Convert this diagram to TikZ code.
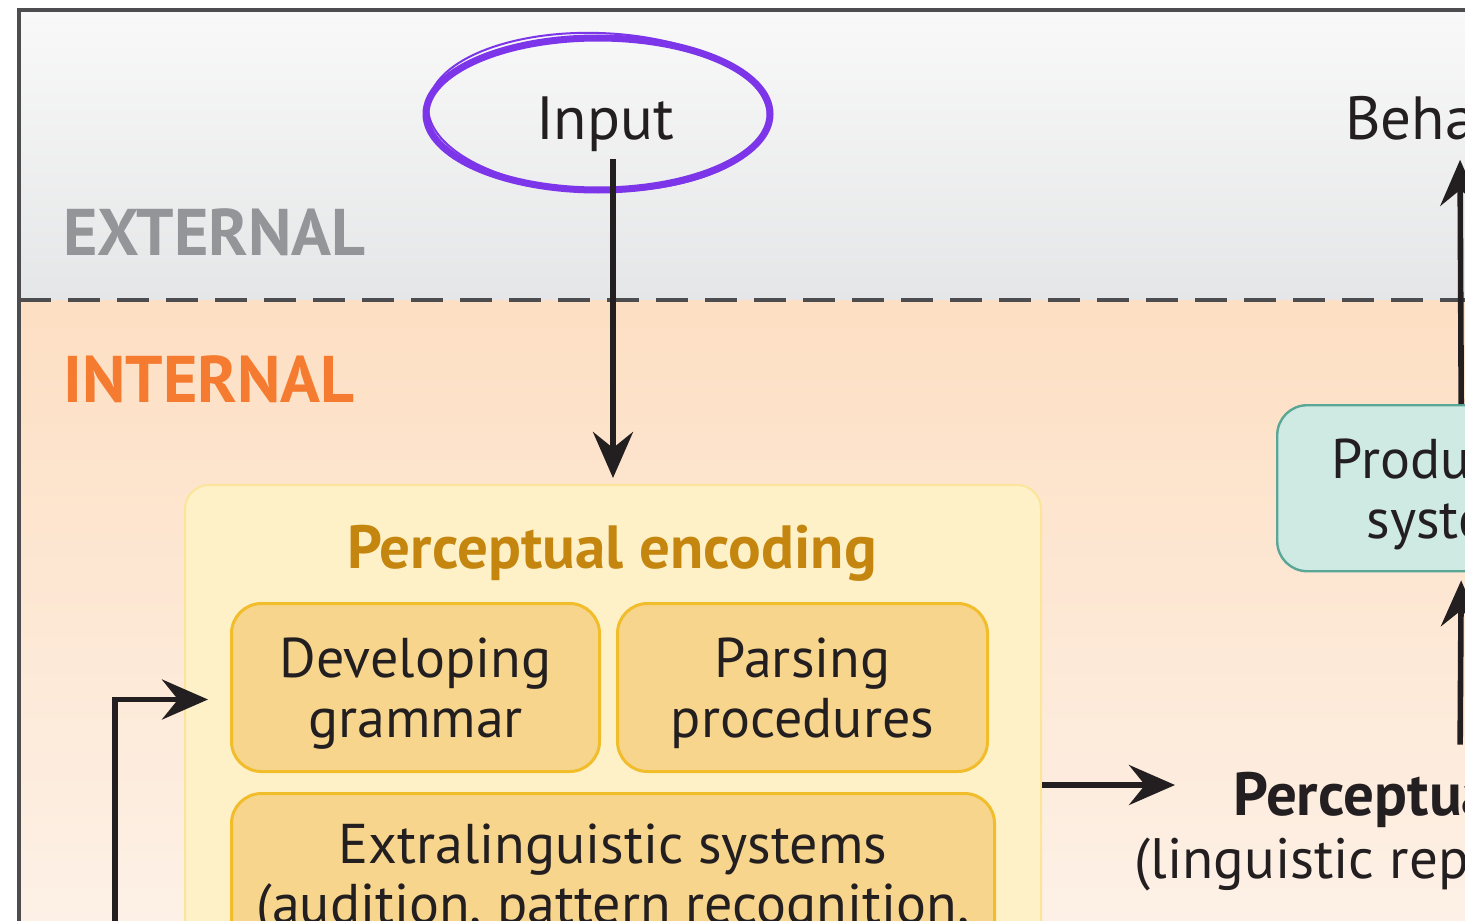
\documentclass[tikz,border=0pt]{standalone}
\usepackage{fontspec}
\setmainfont{PT Sans}
\usepackage{tikz}
\usetikzlibrary{arrows.meta,positioning,calc}

\definecolor{frameline}{HTML}{4D4D4F}
\definecolor{inkblack}{HTML}{231F20}
\definecolor{exttop}{HTML}{F9F9F9}
\definecolor{extbot}{HTML}{E5E6E7}
\definecolor{inttop}{HTML}{FDDFC3}
\definecolor{intbot}{HTML}{FDF1E7}
\definecolor{extgray}{HTML}{939598}
\definecolor{intorange}{HTML}{F47B2F}
\definecolor{encfill}{HTML}{FEF1C8}
\definecolor{encline}{HTML}{FCE49A}
\definecolor{subfill}{HTML}{F7D58C}
\definecolor{subline}{HTML}{F1BD2B}
\definecolor{titlegold}{HTML}{C5860F}
\definecolor{prodfill}{HTML}{CFE9E3}
\definecolor{prodline}{HTML}{5AA697}
\definecolor{brushpurple}{HTML}{7D35EA}

\begin{document}
\begin{tikzpicture}[x=0.5pt, y=-0.5pt,
  zone/.style={font=\fontsize{33}{33}\selectfont\bfseries, anchor=base west, inner sep=0pt},
  lbl/.style={font=\fontsize{30.5}{36}\selectfont, text=inkblack},
  encbox/.style={draw=encline, fill=encfill, line width=1pt, rounded corners=12pt},
  subbox/.style={draw=subline, fill=subfill, line width=1.5pt, rounded corners=15pt,
    align=center, font=\fontsize{28}{30}\selectfont, text=inkblack},
  prodbox/.style={draw=prodline, fill=prodfill, line width=1.2pt, rounded corners=15pt,
    align=center, font=\fontsize{28}{30}\selectfont, text=inkblack},
  arr/.style={-{Stealth[length=23pt, width=20pt, inset=8pt]}, line width=2.8pt, draw=inkblack},
  brush/.style={draw=brushpurple, line width=3.5pt},
]
\useasboundingbox (0,0) rectangle (1465,920);
\clip (0,0) rectangle (1465,920);
\fill[white] (0,0) rectangle (1465,920);

% the two zones
\shade[top color=exttop, bottom color=extbot] (19,10) rectangle (1520,300);
\shade[top color=inttop, bottom color=intbot] (19,300) rectangle (1520,940);
\draw[frameline, line width=2pt] (1520,10) -- (19,10) -- (19,940);
\draw[frameline, line width=2pt, dash pattern=on 16pt off 8.5pt] (19,300) -- (1520,300);
\node[zone, text=extgray] (external) at (63,255) {EXTERNAL};
\node[zone, text=intorange] (internal) at (63,402) {INTERNAL};

% input, circled by hand
\node[lbl, anchor=base] (input) at (605,140) {Input};
\draw[brush] (598,114) ellipse [x radius=172, y radius=76];
\draw[brushpurple, line width=1pt, rotate around={-2:(598,114)}] (598,112) ellipse [x radius=170, y radius=79];

% perceptual encoding block
\node[encbox, anchor=north west, minimum width=428pt, minimum height=320pt] (enc) at (184,484) {};
\node[lbl, font=\fontsize{30.5}{36}\selectfont\bfseries, text=titlegold, anchor=base] (enctitle) at (612,568) {Perceptual encoding};
\node[subbox, anchor=north west, minimum width=184pt, minimum height=84pt, text depth=0pt] (gram) at (230,602) {Developing\\grammar};
\node[subbox, right=7.5pt of gram, minimum width=185pt, minimum height=84pt, text depth=0pt] (parse) {Parsing\\procedures};
\node[subbox, anchor=north west, minimum width=381.5pt, inner ysep=15pt] (extra) at (230,792)
  {Extralinguistic systems\\(audition, pattern recognition,\\memory)};

% right-hand column
\node[prodbox, anchor=north west, minimum width=184pt, minimum height=83pt, text depth=0pt] (prod) at (1276,404) {Production\\systems};
\node[lbl, anchor=base] (beh) at (1460,140) {Behavior};
\node[lbl, font=\fontsize{30.5}{36}\selectfont\bfseries, anchor=base] (intake) at (1460,815) {Perceptual intake};
\node[lbl, font=\fontsize{28.5}{34}\selectfont, anchor=base] (intakesub) at (1460,878) {(linguistic representations)};

\coordinate (intakein) at (1175,785);
\coordinate (fbsrc) at (115,960);

\draw[arr, shorten >=3pt] (input.south -| enc.north) -- (enc.north);
\draw[arr] (enc.east |- intakein) -- (intakein);
\draw[arr, shorten <=10pt, shorten >=4pt] (intake.north) -- (prod.south);
\draw[arr, shorten >=6pt] (prod.north) -- (beh.south);
\draw[arr, shorten >=11pt] (fbsrc) |- ($(gram.west)+(0,12)$);
\end{tikzpicture}
\end{document}
